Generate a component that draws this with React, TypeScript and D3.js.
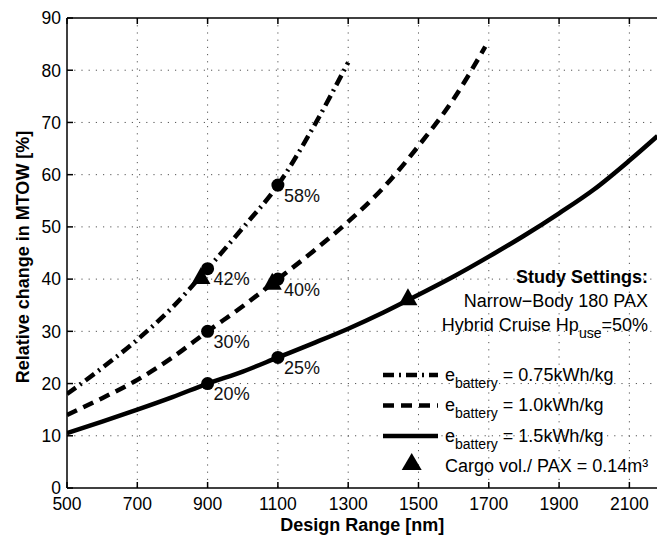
import React from 'react';
import * as d3 from 'd3';

const W = 657;
const H = 538;

// Axis ticks
const xTicks = [500, 700, 900, 1100, 1300, 1500, 1700, 1900, 2100];
const yTicks = [0, 10, 20, 30, 40, 50, 60, 70, 80, 90];

// e_battery = 0.75 kWh/kg
const range075 = [500, 600, 700, 800, 900, 1000, 1100, 1200, 1300];
const mtow075 = [18, 23, 28.4, 34.6, 42, 49.8, 58, 69, 81.5];

// e_battery = 1.0 kWh/kg
const range10 = [500, 600, 700, 800, 900, 1000, 1100, 1200, 1300, 1400, 1500, 1600, 1690];
const mtow10 = [14, 17.2, 20.7, 25, 30, 34.8, 40, 45.3, 51, 57.5, 65.5, 74.5, 84.5];

// e_battery = 1.5 kWh/kg
const range15 = [500, 600, 700, 800, 900, 1000, 1100, 1200, 1300, 1400, 1500, 1600, 1700, 1800, 1900, 2000, 2100, 2180];
const mtow15 = [10.5, 12.7, 15, 17.4, 20, 22.3, 25, 27.7, 30.5, 33.6, 37, 40.5, 44.3, 48.3, 52.6, 57.2, 62.7, 67.4];

// Labelled points at 900 and 1100 nm
const markRange = [900, 1100];
const mark075 = [42, 58];
const mark10 = [30, 40];
const mark15 = [20, 25];

// Cargo volume per PAX = 0.14 m³ points
const cargoRange = [881, 1084, 1470];
const cargoMtow = [40.7, 39.6, 36.6];

const legendLabels = ['= 0.75kWh/kg', '= 1.0kWh/kg', '= 1.5kWh/kg'];
const settingsLines = ['Study Settings:', 'Narrow\u2212Body 180 PAX'];

const FONT = '"Liberation Sans", Arial, Helvetica, sans-serif';

const left = 67;
const right = 657.5;
const top = 18;
const bottom = 488;

const styles = [
  { dash: '11,5,2,5' },
  { dash: '11,7' },
  { dash: 'none' },
];

function tri(cx: number, cy: number, w = 19, h = 17) {
  return `M${cx - w / 2},${cy + h / 2}L${cx + w / 2},${cy + h / 2}L${cx},${cy - h / 2}Z`;
}

export default function App() {
  const x = d3.scaleLinear().domain([500, 2180]).range([left, right]);
  const y = d3.scaleLinear().domain([0, 90]).range([bottom, top]);

  const line = d3
    .line<[number, number]>()
    .x((d) => x(d[0]))
    .y((d) => y(d[1]))
    .curve(d3.curveMonotoneX);

  const series = [
    { xs: range075, ys: mtow075, marks: mark075 },
    { xs: range10, ys: mtow10, marks: mark10 },
    { xs: range15, ys: mtow15, marks: mark15 },
  ];

  return (
    <svg
      width={W}
      height={H}
      style={{ position: 'absolute', left: 0, top: 0, background: '#fff' }}
      fontFamily={FONT}
    >
      <defs>
        <clipPath id="plotArea">
          <rect x={left} y={top} width={right - left} height={bottom - top} />
        </clipPath>
      </defs>
      <rect x={0} y={0} width={W} height={H} fill="#fff" />

      {/* grid */}
      <g stroke="#555" strokeWidth={1} strokeDasharray="1.2,6">
        {xTicks.slice(1).map((t) => (
          <line key={'gx' + t} x1={x(t)} x2={x(t)} y1={top} y2={bottom} />
        ))}
        {yTicks.slice(1, -1).map((t) => (
          <line key={'gy' + t} x1={left} x2={right} y1={y(t)} y2={y(t)} />
        ))}
      </g>

      {/* curves */}
      <g clipPath="url(#plotArea)" fill="none" stroke="#000" strokeWidth={4.5}>
        {series.map((s, i) => (
          <path
            key={'s' + i}
            d={line(s.xs.map((v, j) => [v, s.ys[j]] as [number, number])) || ''}
            strokeDasharray={styles[i].dash}
          />
        ))}
      </g>

      {/* labelled points */}
      {series.map((s, i) =>
        markRange.map((r, j) => (
          <g key={'m' + i + j}>
            <circle cx={x(r)} cy={y(s.marks[j])} r={6.5} fill="#000" />
            <text x={x(r) + 6} y={y(s.marks[j]) + 16.5} fontSize={18} fill="#111">
              {s.marks[j]}%
            </text>
          </g>
        ))
      )}

      {/* cargo points */}
      {cargoRange.map((r, j) => (
        <path key={'c' + j} d={tri(x(r), y(cargoMtow[j]))} fill="#000" />
      ))}

      {/* axes frame */}
      <g stroke="#000" strokeWidth={1.5} fill="none">
        <line x1={left} x2={left} y1={top} y2={bottom} />
        <line x1={left} x2={W} y1={bottom} y2={bottom} />
        <line x1={left} x2={W} y1={top} y2={top} />
        {xTicks.map((t) => (
          <g key={'tx' + t}>
            <line x1={x(t)} x2={x(t)} y1={bottom} y2={bottom - 6} />
            <line x1={x(t)} x2={x(t)} y1={top} y2={top + 6} />
          </g>
        ))}
        {yTicks.map((t) => (
          <line key={'ty' + t} x1={left} x2={left + 6} y1={y(t)} y2={y(t)} />
        ))}
      </g>

      {/* tick labels */}
      <g fontSize={17.5} fill="#000">
        {xTicks.map((t) => (
          <text key={'lx' + t} x={x(t)} y={510} textAnchor="middle">
            {t}
          </text>
        ))}
        {yTicks.map((t) => (
          <text key={'ly' + t} x={61} y={y(t) + 6.3} textAnchor="end">
            {t}
          </text>
        ))}
      </g>

      {/* axis titles */}
      <text x={(left + right) / 2} y={531} textAnchor="middle" fontSize={18} fontWeight="bold">
        Design Range [nm]
      </text>
      <text
        transform={`translate(28.5,${(top + bottom) / 2 + 4}) rotate(-90)`}
        textAnchor="middle"
        fontSize={18}
        fontWeight="bold"
      >
        Relative change in MTOW [%]
      </text>

      {/* study settings */}
      <g fontSize={18} textAnchor="end" fill="#000">
        <text x={648} y={283} fontWeight="bold">
          {settingsLines[0]}
        </text>
        <text x={648} y={307}>
          {settingsLines[1]}
        </text>
        <text x={648} y={331}>
          Hybrid Cruise Hp
          <tspan fontSize={14} dy={7}>
            use
          </tspan>
          <tspan dy={-7}>=50%</tspan>
        </text>
      </g>

      {/* legend */}
      {legendLabels.map((lab, i) => {
        const ly = 375 + i * 30.5;
        return (
          <g key={'lg' + i}>
            <line
              x1={383}
              x2={438}
              y1={ly}
              y2={ly}
              stroke="#000"
              strokeWidth={4.5}
              strokeDasharray={styles[i].dash}
            />
            <text x={445} y={ly + 5.5} fontSize={18}>
              e
              <tspan fontSize={14} dy={7}>
                battery
              </tspan>
              <tspan dy={-7}> {lab}</tspan>
            </text>
          </g>
        );
      })}
      <path d={tri(411.7, 461.5, 20, 17)} fill="#000" />
      <text x={445} y={471.5} fontSize={18}>
        Cargo vol./ PAX = 0.14m³
      </text>
    </svg>
  );
}
